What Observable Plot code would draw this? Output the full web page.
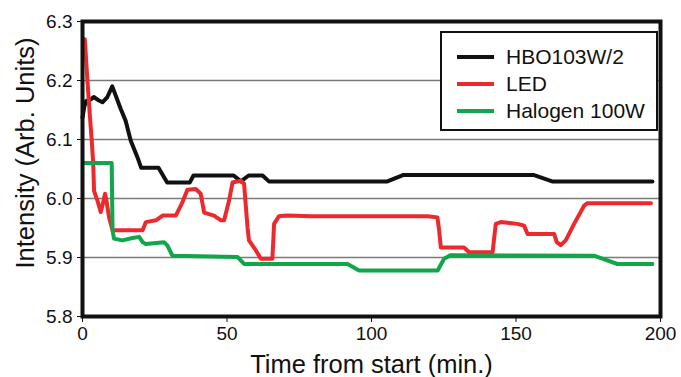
<!DOCTYPE html>
<html>
<head>
<meta charset="utf-8">
<script src="https://cdn.jsdelivr.net/npm/d3@7"></script>
<script src="https://cdn.jsdelivr.net/npm/@observablehq/plot@0.6"></script>
<style>
  html, body { margin: 0; padding: 0; background: white; }
  #wrap { position: relative; width: 681px; height: 377px; font-family: "Liberation Sans", Arial, sans-serif; }
  #legend { position: absolute; left: 440px; top: 31px; width: 214px; height: 96px; border: 2px solid #111; background: white; }
  .row { position: absolute; left: 0; height: 24px; display: flex; align-items: center; font-size: 21px; color: #111; white-space: nowrap; }
  .sw { display: inline-block; width: 37px; height: 4px; margin-left: 15px; margin-right: 12px; }
</style>
</head>
<body>
<div id="wrap"></div>
<script>
const seriesNames = ["HBO103W/2", "LED", "Halogen 100W"];
const seriesColors = ["#111111", "#ec2a2e", "#10a64a"];

const hboT = [0, 0.6, 1.2, 2.9, 3.9, 5.7, 6.9, 8.6, 10.3, 13.2, 14.9, 16.7, 19, 20.3, 26.3, 29.3, 37.1, 38.4, 52.3, 54.8, 57.5, 62.3, 64.5, 105.5, 111.1, 156, 162.5, 197.2];
const hboV = [6.137, 6.155, 6.165, 6.168, 6.172, 6.166, 6.163, 6.172, 6.19, 6.152, 6.132, 6.098, 6.07, 6.052, 6.052, 6.027, 6.027, 6.039, 6.039, 6.029, 6.039, 6.039, 6.029, 6.029, 6.04, 6.04, 6.029, 6.029];

const ledT = [0.8, 1.7, 2.5, 3.2, 3.7, 4.0, 5.2, 6.3, 6.9, 7.8, 8.3, 9.2, 10.4, 20.8, 21.9, 25.4, 27.7, 32.3, 34.6, 36.3, 39.2, 40.9, 42.1, 45.5, 47.9, 49, 50.7, 51.9, 54.8, 55.9, 57.1, 57.6, 60, 61.7, 65.7, 66.3, 68, 70.9, 79, 119.4, 122.8, 123.4, 124, 132, 133.8, 141.9, 143, 144.7, 150.5, 152.8, 154, 163.2, 164.1, 165.5, 167.2, 170.1, 173.6, 174.7, 196.7];
const ledV = [6.27, 6.2, 6.144, 6.098, 6.06, 6.013, 5.996, 5.977, 5.988, 6.008, 5.996, 5.968, 5.946, 5.946, 5.96, 5.963, 5.971, 5.971, 5.994, 6.015, 6.016, 6.008, 5.976, 5.971, 5.963, 5.963, 5.996, 6.027, 6.03, 6.025, 5.951, 5.929, 5.912, 5.898, 5.898, 5.957, 5.97, 5.971, 5.97, 5.97, 5.968, 5.946, 5.917, 5.917, 5.909, 5.909, 5.957, 5.96, 5.957, 5.954, 5.94, 5.94, 5.926, 5.921, 5.929, 5.957, 5.988, 5.992, 5.992];

const halT = [0.2, 10.1, 10.4, 10.9, 13.8, 17.3, 19.6, 20.8, 21.9, 28.2, 29.4, 31.1, 53.6, 55.9, 91.7, 95.7, 122.9, 125.1, 127.4, 177, 185.1, 197.2];
const halV = [6.06, 6.06, 5.946, 5.932, 5.929, 5.933, 5.935, 5.926, 5.923, 5.926, 5.92, 5.903, 5.901, 5.889, 5.889, 5.878, 5.878, 5.898, 5.904, 5.903, 5.889, 5.889];

const xTicks = [0, 50, 100, 150, 200];
const yTicks = [5.8, 5.9, 6.0, 6.1, 6.2, 6.3];
const yGrid = [5.9, 6.0, 6.1, 6.2];
const xTitle = "Time from start (min.)";
const yTitle = "Intensity (Arb. Units)";

const seriesT = [hboT, ledT, halT];
const seriesV = [hboV, ledV, halV];
const rows = [];
seriesNames.forEach((name, i) => {
  seriesT[i].forEach((t, j) => rows.push({series: name, t, v: seriesV[i][j]}));
});

const chart = Plot.plot({
  width: 681,
  height: 377,
  marginLeft: 82,
  marginRight: 21,
  marginTop: 21,
  marginBottom: 61,
  x: {domain: [0, 200]},
  y: {domain: [5.8, 6.3]},
  color: {domain: seriesNames, range: seriesColors},
  style: {fontFamily: "'Liberation Sans', Arial, sans-serif", fontSize: "19px", background: "white", color: "#111", overflow: "visible"},
  marks: [
    Plot.gridY(yGrid, {stroke: "#7a7a7a", strokeOpacity: 1, strokeWidth: 1.5}),
    Plot.line(rows, {x: "t", y: "v", z: "series", stroke: "series", strokeWidth: 4}),
    Plot.frame({stroke: "#111", strokeWidth: 4}),
    Plot.axisX({ticks: xTicks, tickSize: 6, tickPadding: 4, label: null, fontSize: 19}),
    Plot.axisY({ticks: yTicks, tickFormat: d3.format(".1f"), tickSize: 5, tickPadding: 5, label: null, fontSize: 19}),
    Plot.text([xTitle], {frameAnchor: "bottom", textAnchor: "middle", lineAnchor: "middle", dy: 48, fontSize: 25.5, fill: "#111"}),
    Plot.text([yTitle], {frameAnchor: "left", textAnchor: "middle", lineAnchor: "middle", rotate: -90, dx: -57, dy: -16, fontSize: 25.5, fill: "#111"})
  ]
});

const wrap = document.getElementById("wrap");
wrap.appendChild(chart);

const legend = document.createElement("div");
legend.id = "legend";
const rowTops = [12, 38.7, 66.3];
seriesNames.forEach((name, i) => {
  const r = document.createElement("div");
  r.className = "row";
  r.style.top = rowTops[i] + "px";
  const sw = document.createElement("span");
  sw.className = "sw";
  sw.style.background = seriesColors[i];
  r.appendChild(sw);
  r.appendChild(document.createTextNode(name));
  legend.appendChild(r);
});
wrap.appendChild(legend);
</script>
</body>
</html>
